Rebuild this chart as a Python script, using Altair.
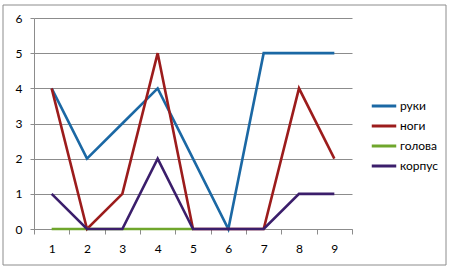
import altair as alt
import pandas as pd

categories = [1, 2, 3, 4, 5, 6, 7, 8, 9]
series_names = ["руки", "ноги", "голова", "корпус"]
ruki = [4, 2, 3, 4, 2, 0, 5, 5, 5]
nogi = [4, 0, 1, 5, 0, 0, 0, 4, 2]
golova = [0, 0, 0, 0, 0, None, None, None, None]
korpus = [1, 0, 0, 2, 0, 0, 0, 1, 1]
colors = ["#1b68a4", "#9c1c1c", "#6fa62c", "#3b1e6b"]

rows = []
for name, vals in zip(series_names, [ruki, nogi, golova, korpus]):
    for c, v in zip(categories, vals):
        if v is not None:
            rows.append({"cat": str(c), "val": v, "series": name})
df = pd.DataFrame(rows)

FONT = "Lato"

x_enc = alt.X("cat:N", sort=[str(c) for c in categories],
              scale=alt.Scale(type="band", paddingInner=0, paddingOuter=0,
                              domain=[str(c) for c in categories]),
              axis=alt.Axis(title=None, labelAngle=0, tickBand="extent", ticks=True,
                            tickSize=5, tickColor="#8c8c8c", domainColor="#8c8c8c",
                            labelPadding=9, labelFontSize=12, labelFont=FONT,
                            labelColor="#000000", grid=False))
y_enc = alt.Y("val:Q", scale=alt.Scale(domain=[0, 6], nice=False),
              axis=alt.Axis(title=None, values=[0, 1, 2, 3, 4, 5, 6], tickSize=4,
                            tickColor="#8c8c8c", domainColor="#8c8c8c",
                            gridColor="#8c8c8c", gridWidth=1,
                            labelPadding=8, labelFontSize=12, labelFont=FONT,
                            labelColor="#000000"))
c_enc = alt.Color("series:N", sort=series_names,
                  scale=alt.Scale(domain=series_names, range=colors),
                  legend=alt.Legend(title=None, orient="none", legendX=336, legendY=74,
                                    symbolType="stroke", symbolStrokeWidth=3,
                                    symbolSize=600, rowPadding=0, padding=0,
                                    labelFontSize=12, labelFont=FONT,
                                    labelColor="#000000", labelOffset=2))

border = alt.Chart(pd.DataFrame({"a": [0]})).mark_rect(
    fill=None, stroke="#8c8c8c", strokeWidth=1
).encode(
    x=alt.value(-31), x2=alt.value(412), y=alt.value(-13), y2=alt.value(247)
)

layers = [border]
for name in series_names:
    layers.append(
        alt.Chart(df[df["series"] == name]).mark_line(strokeWidth=2.6).encode(
            x=x_enc, y=y_enc, color=c_enc
        )
    )

chart = alt.layer(*layers).properties(
    width=318, height=211,
    padding={"left": 34, "top": 18, "right": 98, "bottom": 44},
    autosize=alt.AutoSizeParams(type="none"),
    background="white",
).configure_view(stroke=None)

chart.save("out.html", embed_options={"renderer": "svg", "actions": False})
